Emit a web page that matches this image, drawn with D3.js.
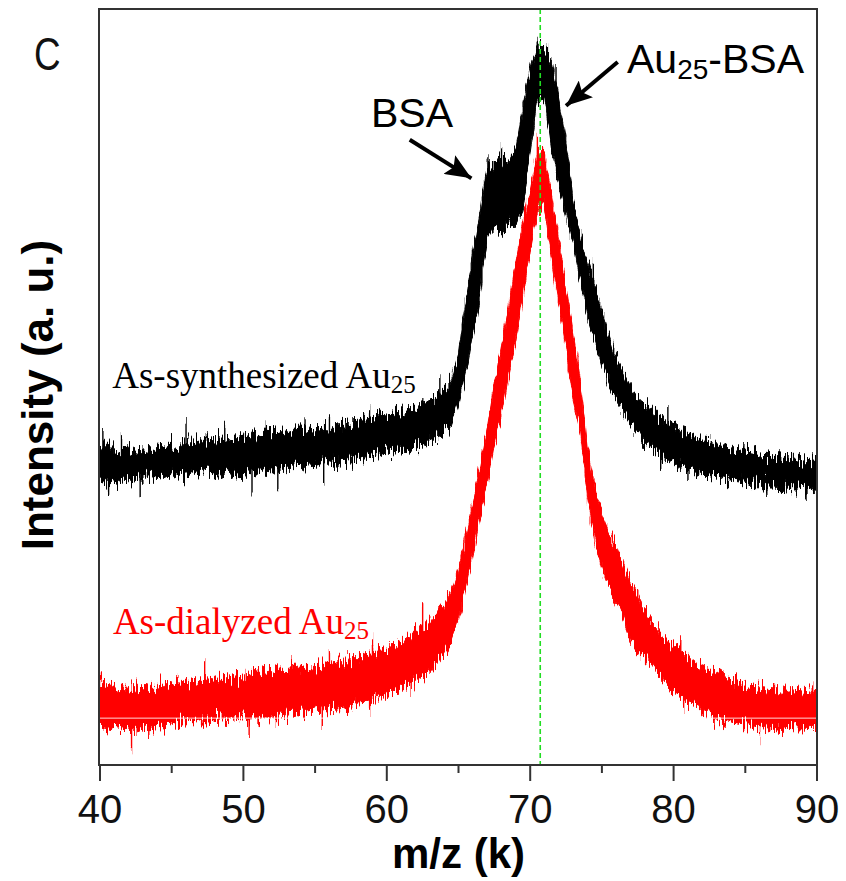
<!DOCTYPE html>
<html>
<head>
<meta charset="utf-8">
<script src="https://cdn.jsdelivr.net/npm/d3@7"></script>
<style>
  html, body { margin: 0; padding: 0; background: #fff; }
  svg { display: block; }
</style>
</head>
<body>
<div id="chart"></div>
<script>
// MALDI spectra, panel C: as-synthesized vs. as-dialyzed Au25
const mz = d3.range(40, 90.01, 0.5).map(v => +v.toFixed(1));

// noise band of each trace (upper / lower edge), a.u.
const blackHi = [42.1,42.6,41.7,41.4,41.9,41.5,42.1,41.8,42.3,42.2,42.6,42.3,43.0,42.6,42.9,43.3,43.0,43.4,43.0,43.3,
  43.5,43.3,43.7,43.9,43.8,44.3,44.0,44.4,44.6,44.2,44.6,44.8,44.7,45.1,45.2,45.5,45.6,45.9,45.9,46.4,
  46.3,46.8,46.7,47.2,47.5,47.8,48.4,48.8,49.6,50.9,54.2,61.5,67.5,72.8,79.4,79.8,80.3,80.0,81.6,87.3,
  91.9,95.6,94.6,93.0,88.0,82.7,74.7,70.1,66.5,63.5,60.2,56.9,53.8,52.0,49.9,48.5,47.6,47.0,46.0,45.6,
  45.0,44.3,44.0,43.5,43.0,42.9,42.5,42.2,42.1,41.7,41.5,41.4,41.0,41.1,40.7,40.6,40.5,40.6,40.2,40.3,40.1];
const blackLo = [37.7,37.4,37.3,37.7,37.6,37.9,37.8,38.2,37.9,38.4,38.1,38.5,38.2,38.8,38.4,38.6,38.5,38.2,38.6,38.1,
  38.2,38.8,38.6,39.0,38.9,39.3,39.2,39.6,39.3,39.7,39.6,39.9,40.1,39.8,40.3,40.2,40.7,40.6,41.1,41.0,
  41.4,41.3,41.8,41.7,42.2,42.3,42.9,43.3,43.9,45.0,47.6,51.6,56.9,62.2,70.1,71.0,70.8,71.3,71.4,73.4,
  81.3,88.0,88.0,81.3,77.0,72.8,68.8,64.2,59.5,56.2,52.9,50.5,48.5,46.7,45.0,43.7,42.6,42.1,41.0,40.3,
  39.9,39.6,39.2,38.9,38.5,38.1,38.2,37.8,37.7,37.6,37.4,37.2,37.2,36.9,36.9,36.8,36.6,36.5,36.5,36.2,36.4];
const redHi = [11.2,10.7,10.4,9.9,9.9,10.3,10.2,10.4,10.4,10.8,10.6,11.0,10.8,11.2,11.0,11.4,11.2,11.6,11.5,11.8,
  11.6,12.0,11.9,12.3,12.2,12.7,12.6,12.8,12.8,13.2,13.0,13.5,13.2,13.8,13.6,14.2,14.2,14.6,14.7,15.2,
  15.2,16.0,16.5,17.1,17.9,18.3,18.9,20.0,21.2,22.9,25.8,30.2,34.7,39.7,44.7,50.3,55.6,60.8,66.8,71.8,
  76.1,81.1,80.7,75.4,69.4,63.2,57.1,50.9,41.7,36.8,33.1,30.8,29.0,26.5,24.2,22.4,20.5,18.9,17.9,16.5,
  15.9,14.9,14.3,13.6,13.0,12.6,12.2,11.6,11.2,11.1,10.8,10.6,10.4,10.3,10.2,9.9,9.9,10.1,9.9,9.8,9.7];
const redLo = [5.0,4.8,4.6,4.4,4.2,4.6,4.9,4.8,5.3,5.0,5.7,5.4,6.0,5.7,6.0,5.8,6.0,6.1,6.0,6.3,
  6.2,6.1,6.2,6.5,6.3,6.6,6.5,6.9,6.7,6.9,7.0,7.3,7.3,7.4,7.5,7.9,8.2,8.3,8.6,8.9,
  9.3,9.7,10.2,10.7,11.2,11.8,12.3,13.4,14.9,16.5,19.2,23.8,28.0,32.7,37.0,42.3,46.3,51.6,56.2,62.2,
  68.1,73.1,74.1,66.5,60.8,54.9,48.3,44.3,35.1,29.8,26.1,23.4,21.2,19.2,16.5,15.2,14.3,13.2,11.9,10.6,
  9.7,9.0,8.2,7.5,7.0,6.6,6.2,6.0,5.7,5.4,5.3,5.3,5.2,4.9,5.0,4.8,5.0,4.9,4.9,4.8,4.9];

// isolated noise spikes [m/z, intensity]
const blackSpikes = [[40.2,44.7],[41.5,43.9],[46.0,45.4],[47.3,44.3],[48.7,45.0],[51.6,45.2],[54.3,45.6],
  [56.0,46.0],[58.8,47.2],[63.7,51.3],[40.6,36.0],[42.8,35.8],[50.6,35.9],[52.4,36.6],[55.6,37.6],
  [70.55,96.6],[71.2,95.2],[71.8,92.6],[67.05,81.3],[68.0,81.7],[68.7,81.0],
  [74.4,67.1],[79.6,47.4],[84.9,43.0],[89.3,35.1],[86.5,36.1],[79.1,39.3],[81.0,37.7]];
const redSpikes = [[40.1,11.6],[47.3,13.6],[50.2,12.6],[53.4,13.9],[56.0,15.2],[59.0,16.5],[62.5,21.8],
  [77.5,24.1],[80.5,16.9],[89.7,10.8],[42.2,2.6],[43.4,3.7],[50.4,4.4],[52.3,5.0],[55.5,4.9],[58.8,6.9],
  [61.7,9.0],[80.7,6.9],[86.0,4.2],[86.7,4.6],[70.5,83.1],[71.0,81.3]];

const xTicks = [40, 50, 60, 70, 80, 90];
const xMinor = [45, 55, 65, 75, 85];
const peakMz = 70.7;

const width = 846, height = 881;
const margin = { top: 9, right: 29, bottom: 116, left: 100 };

const svg = d3.select("#chart").append("svg")
  .attr("width", width)
  .attr("height", height);

const x = d3.scaleLinear().domain([40, 90]).range([margin.left, width - margin.right]);
const y = d3.scaleLinear().domain([0, 100]).range([height - margin.bottom, margin.top]);

const defs = svg.append("defs");

// rough up the band edges so they read like a dense noisy trace
const rough = defs.append("filter")
  .attr("id", "rough")
  .attr("filterUnits", "userSpaceOnUse")
  .attr("x", 0).attr("y", 0)
  .attr("width", width).attr("height", height);
rough.append("feTurbulence")
  .attr("type", "fractalNoise")
  .attr("baseFrequency", "0.55 0.05")
  .attr("numOctaves", 2)
  .attr("seed", 7)
  .attr("result", "noise");
rough.append("feColorMatrix")
  .attr("in", "noise")
  .attr("type", "matrix")
  .attr("values", "0 0 0 0 0.5  0 1 0 0 0  0 0 0 0 0  0 0 0 0 1")
  .attr("result", "shift");
rough.append("feDisplacementMap")
  .attr("in", "SourceGraphic")
  .attr("in2", "shift")
  .attr("scale", 32)
  .attr("xChannelSelector", "R")
  .attr("yChannelSelector", "G");

const plot = svg.append("g");

// draw one noisy trace as a filled band plus spikes
function drawTrace(hi, lo, spikes, color) {
  const g = plot.append("g").attr("filter", "url(#rough)");
  const rows = mz.map((m, i) => ({ m, hi: hi[i], lo: lo[i] }));
  const area = d3.area()
    .x(d => x(d.m))
    .y0(d => y(d.lo))
    .y1(d => y(d.hi));
  g.append("path")
    .datum(rows)
    .attr("d", area)
    .attr("fill", color)
    .attr("stroke", color)
    .attr("stroke-width", 1)
    .attr("stroke-linejoin", "round");

  g.selectAll(null)
    .data(spikes)
    .enter()
    .append("line")
    .attr("x1", d => x(d[0]))
    .attr("x2", d => x(d[0]))
    .attr("y1", d => {
      const i = d3.minIndex(mz, m => Math.abs(m - d[0]));
      return y((hi[i] + lo[i]) / 2);
    })
    .attr("y2", d => y(d[1]))
    .attr("stroke", color)
    .attr("stroke-width", 1.4);
}

drawTrace(blackHi, blackLo, blackSpikes, "#000");
drawTrace(redHi, redLo, redSpikes, "#ff0000");

// faint white scan line across the lower trace
plot.append("line")
  .attr("x1", x(40)).attr("x2", x(90))
  .attr("y1", y(6.2)).attr("y2", y(6.2))
  .attr("stroke", "#fff")
  .attr("stroke-width", 1)
  .attr("opacity", 0.85);

// green dashed marker at the Au25-BSA peak
plot.append("line")
  .attr("x1", x(peakMz)).attr("x2", x(peakMz))
  .attr("y1", y(100)).attr("y2", y(0))
  .attr("stroke", "#22dd22")
  .attr("stroke-width", 1.6)
  .attr("stroke-dasharray", "5,3");

// frame
svg.append("rect")
  .attr("x", margin.left - 1)
  .attr("y", margin.top)
  .attr("width", width - margin.right - margin.left + 1)
  .attr("height", height - margin.bottom - margin.top)
  .attr("fill", "none")
  .attr("stroke", "#333")
  .attr("stroke-width", 2);

// x axis ticks
const axisY = height - margin.bottom;
svg.selectAll(".major")
  .data(xTicks)
  .enter()
  .append("line")
  .attr("x1", d => x(d)).attr("x2", d => x(d))
  .attr("y1", axisY).attr("y2", axisY + 16)
  .attr("stroke", "#333").attr("stroke-width", 2);
svg.selectAll(".minor")
  .data(xMinor)
  .enter()
  .append("line")
  .attr("x1", d => x(d)).attr("x2", d => x(d))
  .attr("y1", axisY).attr("y2", axisY + 8)
  .attr("stroke", "#333").attr("stroke-width", 2);
svg.selectAll(".tick-label")
  .data(xTicks)
  .enter()
  .append("text")
  .attr("x", d => x(d))
  .attr("y", axisY + 58)
  .attr("text-anchor", "middle")
  .attr("font-family", "Liberation Sans, Arial, sans-serif")
  .attr("font-size", "40px")
  .attr("fill", "#111")
  .text(d => d);

svg.append("text")
  .attr("x", (x(40) + x(90)) / 2)
  .attr("y", 868)
  .attr("text-anchor", "middle")
  .attr("font-family", "Liberation Sans, Arial, sans-serif")
  .attr("font-weight", "bold")
  .attr("font-size", "42px")
  .text("m/z (k)");

svg.append("text")
  .attr("transform", `translate(53, ${(margin.top + axisY) / 2 + 8}) rotate(-90)`)
  .attr("text-anchor", "middle")
  .attr("font-family", "Liberation Sans, Arial, sans-serif")
  .attr("font-weight", "bold")
  .attr("font-size", "44px")
  .text("Intensity (a. u.)");

// panel letter (narrow face)
svg.append("text")
  .attr("transform", "translate(34, 70) scale(0.8, 1)")
  .attr("font-family", "Liberation Sans, Arial, sans-serif")
  .attr("font-size", "46px")
  .attr("fill", "#111")
  .text("C");

// peak labels and arrows
defs.append("marker")
  .attr("id", "head")
  .attr("markerUnits", "userSpaceOnUse")
  .attr("viewBox", "0 0 26 22")
  .attr("refX", 26).attr("refY", 11)
  .attr("markerWidth", 26).attr("markerHeight", 22)
  .attr("orient", "auto")
  .append("path")
  .attr("d", "M0,0 L26,11 L0,22 L5,11 Z")
  .attr("fill", "#000");

const arrows = [
  { from: [61.6, 82.7], to: [65.9, 77.6] },
  { from: [76.1, 93.0], to: [72.5, 87.2] }
];
svg.selectAll(".arrow")
  .data(arrows)
  .enter()
  .append("line")
  .attr("x1", d => x(d.from[0])).attr("y1", d => y(d.from[1]))
  .attr("x2", d => x(d.to[0])).attr("y2", d => y(d.to[1]))
  .attr("stroke", "#000")
  .attr("stroke-width", 4)
  .attr("marker-end", "url(#head)");

svg.append("text")
  .attr("x", x(58.9)).attr("y", y(84.4))
  .attr("font-family", "Liberation Sans, Arial, sans-serif")
  .attr("font-size", "41px")
  .text("BSA");

const auLabel = svg.append("text")
  .attr("x", x(76.75)).attr("y", y(91.5))
  .attr("font-family", "Liberation Sans, Arial, sans-serif")
  .attr("font-size", "41px");
auLabel.append("tspan").text("Au");
auLabel.append("tspan").attr("font-size", "28px").attr("dy", 6).text("25");
auLabel.append("tspan").attr("dy", -6).text("-BSA");

// trace names
function traceName(m, v, color) {
  return svg.append("text")
    .attr("x", x(m)).attr("y", y(v))
    .attr("font-family", "Liberation Serif, Times New Roman, serif")
    .attr("font-size", "37px")
    .attr("fill", color);
}
const synth = traceName(40.85, 49.9, "#000");
synth.append("tspan").text("As-synthesized Au");
synth.append("tspan").attr("font-size", "25px").attr("dy", 5).text("25");

const dial = traceName(40.9, 17.3, "#ff0000");
dial.append("tspan").text("As-dialyzed Au");
dial.append("tspan").attr("font-size", "25px").attr("dy", 5).text("25");
</script>
</body>
</html>
